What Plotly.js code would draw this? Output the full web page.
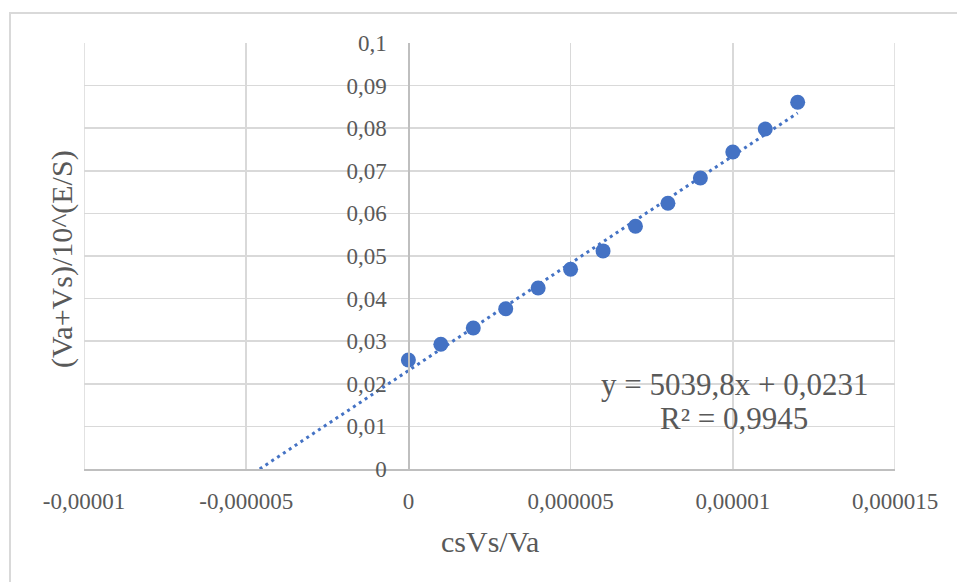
<!DOCTYPE html>
<html>
<head>
<meta charset="utf-8">
<script src="https://cdn.plot.ly/plotly-3.0.1.min.js"></script>
<style>
  html, body { margin: 0; padding: 0; background: #ffffff; }
  #wrap { position: relative; width: 957px; height: 582px; overflow: hidden; }
  #chart { position: absolute; left: 0; top: 0; width: 957px; height: 582px; }
  #frame { position: absolute; left: 9px; top: 12px; width: 1000px; height: 700px;
           border-left: 2px solid #d9d9d9; border-top: 2px solid #d9d9d9; pointer-events: none; }
</style>
</head>
<body>
<div id="wrap">
  <div id="chart"></div>
  <div id="frame"></div>
</div>
<script>
// Data
const xValues = [0, 0.000001, 0.000002, 0.000003, 0.000004, 0.000005, 0.000006,
                 0.000007, 0.000008, 0.000009, 0.00001, 0.000011, 0.000012];
const yValues = [0.0256, 0.0293, 0.0331, 0.0376, 0.0425, 0.0469, 0.0512,
                 0.0570, 0.0624, 0.0683, 0.0744, 0.0798, 0.0861];

// Linear trendline parameters (as shown on the chart)
const trendSlope = 5039.8;
const trendIntercept = 0.0231;
const equationText = "y = 5039,8x + 0,0231";
const r2Text = "R² = 0,9945";

// Axis ticks
const xTickVals = [-0.00001, -0.000005, 0, 0.000005, 0.00001, 0.000015];
const xTickText = ["-0,00001", "-0,000005", "0", "0,000005", "0,00001", "0,000015"];
const yTickVals = [0, 0.01, 0.02, 0.03, 0.04, 0.05, 0.06, 0.07, 0.08, 0.09, 0.1];
const yTickText = ["0", "0,01", "0,02", "0,03", "0,04", "0,05", "0,06", "0,07", "0,08", "0,09", "0,1"];

const xTitle = "csVs/Va";
const yTitle = "(Va+Vs)/10^(E/S)";

// Trendline from y = 0 to the last x value
const trendX0 = -trendIntercept / trendSlope;
const trendX1 = xValues[xValues.length - 1];
const trendX = [trendX0, trendX1];
const trendY = trendX.map(x => trendSlope * x + trendIntercept);

const blue = "#4472C4";
const textGrey = "#595959";
const gridGrey = "#d9d9d9";
const font = "Liberation Serif";

const xRange = [-0.00001, 0.000015];
const yRange = [0, 0.1];
const yAxisPos = (0 - xRange[0]) / (xRange[1] - xRange[0]);

const data = [
  {
    x: trendX, y: trendY, type: "scatter", mode: "lines",
    line: { color: blue, width: 3, dash: "3px,4px" },
    hoverinfo: "skip", showlegend: false
  },
  {
    x: xValues, y: yValues, type: "scatter", mode: "markers",
    marker: { color: blue, size: 15 },
    showlegend: false
  }
];

const layout = {
  width: 957, height: 582,
  margin: { l: 84, r: 62, t: 43, b: 113 },
  paper_bgcolor: "#ffffff", plot_bgcolor: "#ffffff",
  showlegend: false,
  font: { family: font, color: textGrey },
  xaxis: {
    range: xRange, tickvals: xTickVals, ticktext: xTickText,
    showgrid: true, gridcolor: gridGrey, gridwidth: 1.5,
    zeroline: false, showline: true, linecolor: "#bfbfbf", linewidth: 1.5,
    ticks: "", tickfont: { family: font, size: 23, color: textGrey },
    ticklabelstandoff: 11, fixedrange: true
  },
  yaxis: {
    range: yRange, tickvals: yTickVals, ticktext: yTickText,
    anchor: "free", position: yAxisPos,
    showgrid: true, gridcolor: gridGrey, gridwidth: 1.5,
    zeroline: false, showline: true, linecolor: "#bfbfbf", linewidth: 1.5,
    ticks: "", tickfont: { family: font, size: 23, color: textGrey },
    ticklabelstandoff: 17, fixedrange: true
  },
  shapes: [
    { type: "line", xref: "x", yref: "paper", x0: xRange[0], x1: xRange[0], y0: 0, y1: 1,
      line: { color: gridGrey, width: 1.5 }, layer: "below" },
    { type: "line", xref: "x", yref: "paper", x0: xRange[1], x1: xRange[1], y0: 0, y1: 1,
      line: { color: gridGrey, width: 1.5 }, layer: "below" }
  ],
  annotations: [
    { text: xTitle, xref: "paper", yref: "paper", x: 0.5, y: -(541 - 469) / 426,
      xanchor: "center", yanchor: "middle", showarrow: false,
      font: { family: font, size: 30, color: textGrey } },
    { text: yTitle, xref: "paper", yref: "paper", x: (62 - 84) / 811, y: (469 - 259) / 426,
      xanchor: "center", yanchor: "middle", showarrow: false, textangle: -90,
      font: { family: font, size: 30, color: textGrey } },
    { text: equationText, xref: "paper", yref: "paper", x: (734 - 84) / 811, y: (469 - 384) / 426,
      xanchor: "center", yanchor: "middle", showarrow: false,
      font: { family: font, size: 31, color: textGrey } },
    { text: r2Text, xref: "paper", yref: "paper", x: (734 - 84) / 811, y: (469 - 418) / 426,
      xanchor: "center", yanchor: "middle", showarrow: false,
      font: { family: font, size: 31, color: textGrey } }
  ]
};

Plotly.newPlot("chart", data, layout, { displayModeBar: false, staticPlot: true });
</script>
</body>
</html>
